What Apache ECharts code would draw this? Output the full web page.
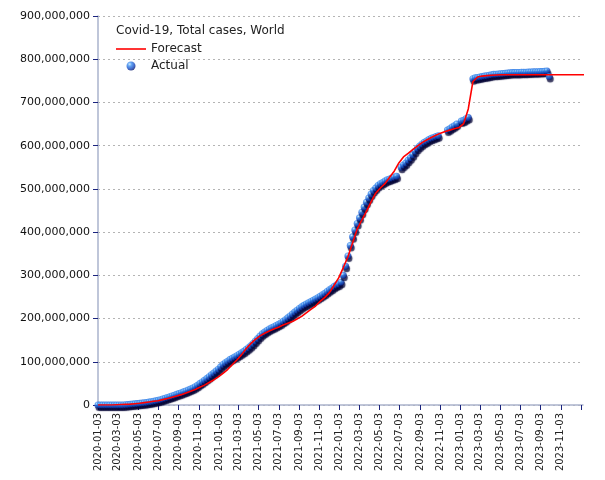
<!DOCTYPE html>
<html>
<head>
<meta charset="utf-8">
<script src="https://cdn.jsdelivr.net/npm/echarts@6/dist/echarts.min.js"></script>
<style>html,body{margin:0;padding:0;background:#fff}#c{width:605px;height:480px}</style>
</head>
<body>
<div id="c"></div>
<script>
// ---- Data (values in millions of cases) ----
const chartTitle = 'Covid-19, Total cases, World';
const seriesNames = ['Forecast', 'Actual'];

// Actual: weekly observations from actualStart, null = no report that week
const actualStart = '2020-01-03';
const actualStepDays = 7;
const actualValues = [
  0,0,0,0,
  0.01,0.03,0.05,0.08,0.08,0.1,0.14,0.27,0.6,
  1.1,1.6,2.2,2.8,3.3,3.9,4.5,5.2,5.9,6.7,7.6,8.6,9.7,
  11.0,12.4,14.0,15.7,17.5,19.3,21.1,22.8,24.6,26.5,28.5,30.4,32.5,34.6,36.8,39.3,42.2,45.6,49.5,53.5,57.5,61.3,65.3,69.8,74.3,78.5,
  83.0,88.5,93.5,97.5,101.5,105.0,108.2,111.2,114.2,117.4,120.7,124.3,128.2,132.4,137.2,142.4,148.0,153.8,159.5,164.6,168.8,172.6,175.8,178.6,181.2,183.9,186.8,190.0,193.6,197.5,201.7,206.1,210.6,215.1,219.4,223.5,227.2,230.6,233.8,236.8,239.6,242.5,245.4,248.4,251.6,255.0,258.6,262.5,266.4,270.2,274.0,277.5,
  280,284,300,321,345,369,389,405,420,433,446,458,469,479,488,496,502,508,512,515,518,521,523,525,527,529,
  null,
  550,555,560,566,572,579,587,594,599,604,608,611,614,617,619,621,623,
  null,null,null,
  636,639,643,646,650,
  null,
  657,659,662,665,
  null,
  755,757,758,759,760,761,762,763,764,765,765.5,766,766.5,767,767.5,768,768.5,769,769,769.5,769.5,770,770,770,770.5,770.5,771,771,771,771.5,771.5,772,773,760
];

// Forecast: every 14 days from forecastStart
const forecastStart = '2020-01-03';
const forecastStepDays = 14;
const forecastValues = [
  0,0,0,0,0.5,1,1.5,2,3,4,
  5.5,7,8.5,10,12.5,15,18,21,24,28,
  32,36,41,46,52,58,65,73,82,93,
  104,116,130,142,152,160,166,171,176,180,
  185,189,193,199,205,213,221,229,240,249,
  260,277,294,318,343,375,407,428,448,470,
  490,502,512,527,541,560,574,582,591,599,
  607,613,619,624,629,633,636,639,642,651,
  685,748,759,761,762,763,763.5,764,764,764,
  764,764,764,764,764,764,764,764,764,764,764,764,764,764,764,764
];

// Axis ticks (the last tick carries no label)
const xTickDates = ['2020-01-03','2020-03-03','2020-05-03','2020-07-03','2020-09-03','2020-11-03',
  '2021-01-03','2021-03-03','2021-05-03','2021-07-03','2021-09-03','2021-11-03',
  '2022-01-03','2022-03-03','2022-05-03','2022-07-03','2022-09-03','2022-11-03',
  '2023-01-03','2023-03-03','2023-05-03','2023-07-03','2023-09-03','2023-11-03','2024-01-03'];
const xLabelDates = xTickDates.slice(0, xTickDates.length - 1);
const xMinDate = '2020-01-03';
const xMaxDate = '2024-01-09';
const yMin = 0, yMax = 900000000, yInterval = 100000000;

// ---- Helpers ----
const DAY = 86400000;
function ts(s){ const p = s.split('-').map(Number); return Date.UTC(p[0], p[1]-1, p[2]); }
function fmtDate(v){ const d = new Date(v); const m = d.getUTCMonth()+1, dd = d.getUTCDate();
  return d.getUTCFullYear() + '-' + (m<10?'0':'') + m + '-' + (dd<10?'0':'') + dd; }
function series(start, step, vals){ const t0 = ts(start); const out = [];
  vals.forEach((v,i)=>{ if (v !== null) out.push([t0 + i*step*DAY, v*1e6]); }); return out; }

const actualData = series(actualStart, actualStepDays, actualValues);
const forecastData = series(forecastStart, forecastStepDays, forecastValues);

const sphere = {type: 'radial', x: 0.35, y: 0.3, r: 0.75, colorStops: [
  {offset: 0, color: '#bfe4ff'}, {offset: 0.3, color: '#3a8cf0'},
  {offset: 0.7, color: '#1548c0'}, {offset: 1, color: '#061466'}]};

const chart = echarts.init(document.getElementById('c'), null, {renderer: 'canvas'});
chart.setOption({
  animation: false,
  backgroundColor: '#ffffff',
  textStyle: {fontFamily: 'DejaVu Sans'},
  title: {
    text: chartTitle, left: 111, top: 20,
    textStyle: {fontSize: 12, fontWeight: 'normal', color: '#222', fontFamily: 'DejaVu Sans'}
  },
  legend: {
    data: [
      {name: seriesNames[0], icon: 'path://M0,0 L30,0 L30,1.6 L0,1.6 Z'},
      {name: seriesNames[1]}
    ],
    orient: 'vertical', left: 111, top: 38,
    itemWidth: 30, itemHeight: 9, itemGap: 5,
    textStyle: {fontSize: 12, color: '#222', fontFamily: 'DejaVu Sans'}
  },
  grid: {left: 98, right: 22, top: 16, bottom: 75, containLabel: false, outerBoundsMode: 'none'},
  xAxis: {
    type: 'value', min: ts(xMinDate), max: ts(xMaxDate),
    axisLine: {show: true, lineStyle: {color: '#aab3cc', width: 1.5}},
    axisTick: {show: true, length: 5, customValues: xTickDates.map(ts), lineStyle: {color: '#1a237e', width: 1}},
    axisLabel: {customValues: xLabelDates.map(ts), rotate: 90, fontSize: 10, color: '#222', margin: 8,
      hideOverlap: false, showMaxLabel: true, showMinLabel: true,
      formatter: v => fmtDate(v)},
    splitLine: {show: false}
  },
  yAxis: {
    type: 'value', min: yMin, max: yMax, interval: yInterval,
    axisLine: {show: true, lineStyle: {color: '#aab3cc', width: 1.5}},
    axisTick: {show: true, length: 5, lineStyle: {color: '#1a237e', width: 1}},
    axisLabel: {fontSize: 11, color: '#111', margin: 8,
      formatter: v => v.toLocaleString('en-US')},
    splitLine: {show: true, lineStyle: {color: '#b4b4b4', type: [2, 3], width: 1}}
  },
  series: [
    {
      name: 'Actual', type: 'scatter', data: actualData, symbolSize: 7, z: 2,
      itemStyle: {
        color: sphere,
        shadowColor: 'rgba(0,0,50,0.95)', shadowBlur: 1, shadowOffsetX: 1, shadowOffsetY: 2.5
      }
    },
    {
      name: 'Forecast', type: 'line', data: forecastData, symbol: 'none', smooth: false, z: 3,
      lineStyle: {color: '#ff0000', width: 1.6}, itemStyle: {color: '#ff0000'}
    }
  ]
});
</script>
</body>
</html>
